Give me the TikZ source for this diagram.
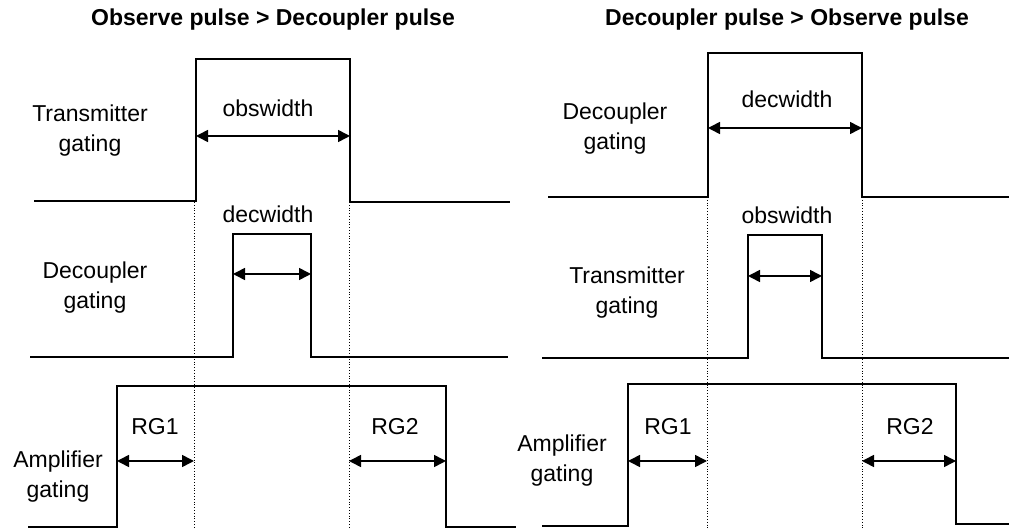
\documentclass[tikz,border=0pt]{standalone}
\usepackage{fontspec}
\setmainfont{Liberation Sans}
\usetikzlibrary{arrows.meta, positioning}
\tikzset{
    gatewave/.style={line width=1.3pt, line join=miter},
    gatelabel/.style={align=center, font=\fontsize{11.5}{15}\selectfont, inner sep=0pt},
    widthlabel/.style={font=\fontsize{11.5}{14}\selectfont, inner sep=0pt},
    paneltitle/.style={font=\fontsize{11.5}{14}\selectfont\bfseries, inner sep=0pt},
    widtharrow/.style={{Triangle[length=6pt,width=6pt]}-{Triangle[length=6pt,width=6pt]}, line width=0.8pt},
    timeline/.style={densely dotted, line width=0.4pt}
}

\begin{document}
\begin{tikzpicture}[x=0.5pt, y=-0.5pt]

\useasboundingbox (0,0) rectangle (1009,529);

% left panel
\node[paneltitle] (ltitle) at (273,20) {Observe pulse > Decoupler pulse};

\draw[gatewave] (34,201) -- (196,201) -- (196,59) -- (350,59) -- (350,202) -- (510,202);
\draw[gatewave] (30,357) -- (233,357) -- (233,234) -- (311,234) -- (311,357) -- (508,357);
\draw[gatewave] (28,527) -- (117,527) -- (117,386) -- (446,386) -- (446,527) -- (516,527);

\coordinate (ltop1) at (194,202);
\coordinate (ltop2) at (349,202);
\coordinate (lbot1) at (194,529);
\coordinate (lbot2) at (349,529);
\draw[timeline] (ltop1) -- (lbot1);
\draw[timeline] (ltop2) -- (lbot2);

\node[gatelabel] (ltx) at (90,131) {Transmitter\\gating};
\node[gatelabel] (ldec) at (95,288) {Decoupler\\gating};
\node[gatelabel] (lamp) at (58,477) {Amplifier\\gating};

\coordinate (lobsA) at (196,136);
\coordinate (lobsB) at (350,136);
\coordinate (ldecA) at (233,274);
\coordinate (ldecB) at (311,274);
\coordinate (lrg1A) at (117,461);
\coordinate (lrg1B) at (194,461);
\coordinate (lrg2A) at (349,461);
\coordinate (lrg2B) at (446,461);
\draw[widtharrow] (lobsA) -- (lobsB);
\draw[widtharrow] (ldecA) -- (ldecB);
\draw[widtharrow] (lrg1A) -- (lrg1B);
\draw[widtharrow] (lrg2A) -- (lrg2B);

\node[widthlabel] (lobs) at (268,108) {obswidth};
\node[widthlabel] (ldw) at (268,214) {decwidth};
\node[widthlabel] (lrg1) at (155,427) {RG1};
\node[widthlabel] (lrg2) at (395,427) {RG2};

% right panel
\node[paneltitle] (rtitle) at (787,20) {Decoupler pulse > Observe pulse};

\draw[gatewave] (548,197) -- (708,197) -- (708,53) -- (862,53) -- (862,197) -- (1009,197);
\draw[gatewave] (542,358) -- (748,358) -- (748,235) -- (822,235) -- (822,358) -- (1009,358);
\draw[gatewave] (542,526) -- (628,526) -- (628,384) -- (956,384) -- (956,524) -- (1009,524);

\coordinate (rtop1) at (707,197);
\coordinate (rtop2) at (862,197);
\coordinate (rbot1) at (707,529);
\coordinate (rbot2) at (862,529);
\draw[timeline] (rtop1) -- (rbot1);
\draw[timeline] (rtop2) -- (rbot2);

\node[gatelabel] (rdec) at (615,129) {Decoupler\\gating};
\node[gatelabel] (rtx) at (627,293) {Transmitter\\gating};
\node[gatelabel] (ramp) at (562,461) {Amplifier\\gating};

\coordinate (rdecA) at (708,128);
\coordinate (rdecB) at (862,128);
\coordinate (robsA) at (748,276);
\coordinate (robsB) at (822,276);
\coordinate (rrg1A) at (628,461);
\coordinate (rrg1B) at (707,461);
\coordinate (rrg2A) at (862,461);
\coordinate (rrg2B) at (956,461);
\draw[widtharrow] (rdecA) -- (rdecB);
\draw[widtharrow] (robsA) -- (robsB);
\draw[widtharrow] (rrg1A) -- (rrg1B);
\draw[widtharrow] (rrg2A) -- (rrg2B);

\node[widthlabel] (rdw) at (787,99) {decwidth};
\node[widthlabel] (robs) at (787,215) {obswidth};
\node[widthlabel] (rrg1) at (668,427) {RG1};
\node[widthlabel] (rrg2) at (910,427) {RG2};

\end{tikzpicture}
\end{document}
